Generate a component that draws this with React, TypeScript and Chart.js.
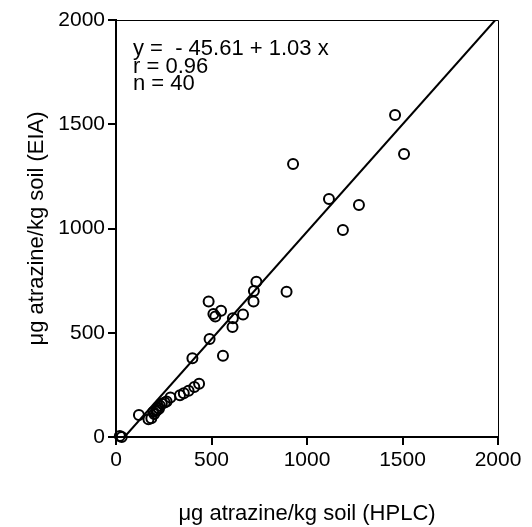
import React, { useEffect, useRef } from "react";
import { Chart, registerables } from "chart.js";

Chart.register(...registerables);

// HPLC (x) and EIA (y) values, µg atrazine / kg soil
const hplc = [20, 30, 120, 170, 185, 195, 200, 210, 215, 220, 225, 230, 240, 255, 265, 285, 335, 355, 380, 410, 435, 400, 490, 560, 485, 510, 520, 550, 612, 665, 610, 720, 722, 735, 893, 927, 1115, 1188, 1272, 1461, 1508];
const eia = [5, 0, 105, 85, 90, 120, 110, 125, 130, 140, 135, 150, 160, 165, 170, 190, 200, 210, 222, 240, 255, 378, 470, 390, 650, 590, 578, 605, 570, 587, 528, 650, 700, 745, 697, 1309, 1141, 993, 1113, 1544, 1357];

const xTicks = [0, 500, 1000, 1500, 2000];
const yTicks = [0, 500, 1000, 1500, 2000];

const intercept = -45.61;
const slope = 1.03;
const annotationLines = ["y =  - 45.61 + 1.03 x", "r = 0.96", "n = 40"];

const xTitle = "\u03bcg atrazine/kg soil (HPLC)";
const yTitle = "\u03bcg atrazine/kg soil (EIA)";

const FONT = "'Liberation Sans', Arial, Helvetica, sans-serif";

export default function App() {
  const ref = useRef<HTMLCanvasElement | null>(null);

  useEffect(() => {
    if (!ref.current) return;
    const pts = hplc.slice(0, Math.min(hplc.length, eia.length)).map((x, i) => ({ x, y: eia[i] }));
    const x0 = (0 - intercept) / slope;
    const x1 = (2000 - intercept) / slope;
    const linePts = [x0, x1].map((x) => ({ x, y: intercept + slope * x }));

    const framePlugin = {
      id: "frame",
      afterDraw(chart: any) {
        const { ctx, chartArea } = chart;
        ctx.save();
        ctx.strokeStyle = "#000";
        ctx.lineWidth = 1;
        ctx.beginPath();
        ctx.moveTo(chartArea.left, chartArea.top + 0.5);
        ctx.lineTo(chartArea.right + 0.5, chartArea.top + 0.5);
        ctx.lineTo(chartArea.right + 0.5, chartArea.bottom);
        ctx.stroke();
        ctx.fillStyle = "#000";
        ctx.font = `22px ${FONT}`;
        ctx.textBaseline = "alphabetic";
        ctx.textAlign = "left";
        annotationLines.forEach((t, i) => {
          ctx.fillText(t, 133, 55 + i * 17.5);
        });
        ctx.restore();
      },
    };

    const fmt = (v: any) => String(v);

    const chart = new Chart(ref.current, {
      type: "scatter",
      data: {
        datasets: [
          {
            type: "line",
            data: linePts,
            borderColor: "#000",
            borderWidth: 2,
            pointRadius: 0,
            fill: false,
          } as any,
          {
            data: pts,
            pointStyle: "circle",
            pointRadius: 5,
            pointBorderWidth: 2,
            pointBackgroundColor: "rgba(255,255,255,0)",
            pointBorderColor: "#000",
            clip: false,
          } as any,
        ],
      },
      options: {
        responsive: false,
        animation: false,
        layout: { padding: { top: 20, right: 34, left: 0, bottom: 0 } },
        plugins: { legend: { display: false }, tooltip: { enabled: false } },
        scales: {
          x: {
            type: "linear",
            min: 0,
            max: 2000,
            afterBuildTicks: (s: any) => {
              s.ticks = xTicks.map((v) => ({ value: v }));
            },
            afterFit: (s: any) => {
              s.height = 90;
            },
            ticks: { color: "#000", font: { family: FONT, size: 21 }, padding: 3, maxRotation: 0, callback: fmt },
            grid: { display: true, drawOnChartArea: false, drawTicks: true, tickLength: 8, color: "#000", lineWidth: 2 },
            border: { display: true, color: "#000", width: 2 },
            title: { display: true, text: xTitle, color: "#000", font: { family: FONT, size: 22 }, padding: { top: 1, bottom: 0 } },
          },
          y: {
            type: "linear",
            min: 0,
            max: 2000,
            afterBuildTicks: (s: any) => {
              s.ticks = yTicks.map((v) => ({ value: v }));
            },
            afterFit: (s: any) => {
              s.width = 116;
            },
            ticks: { color: "#000", font: { family: FONT, size: 21 }, padding: 3, callback: fmt },
            grid: { display: true, drawOnChartArea: false, drawTicks: true, tickLength: 8, color: "#000", lineWidth: 2 },
            border: { display: true, color: "#000", width: 2 },
            title: { display: true, text: yTitle, color: "#000", font: { family: FONT, size: 22 }, padding: { top: 24, bottom: 0 } },
          },
        },
      },
      plugins: [framePlugin],
    });
    return () => chart.destroy();
  }, []);

  return (
    <div style={{ position: "absolute", left: 0, top: 0, width: 532, height: 527, background: "#fff" }}>
      <canvas ref={ref} width={532} height={527} />
    </div>
  );
}
